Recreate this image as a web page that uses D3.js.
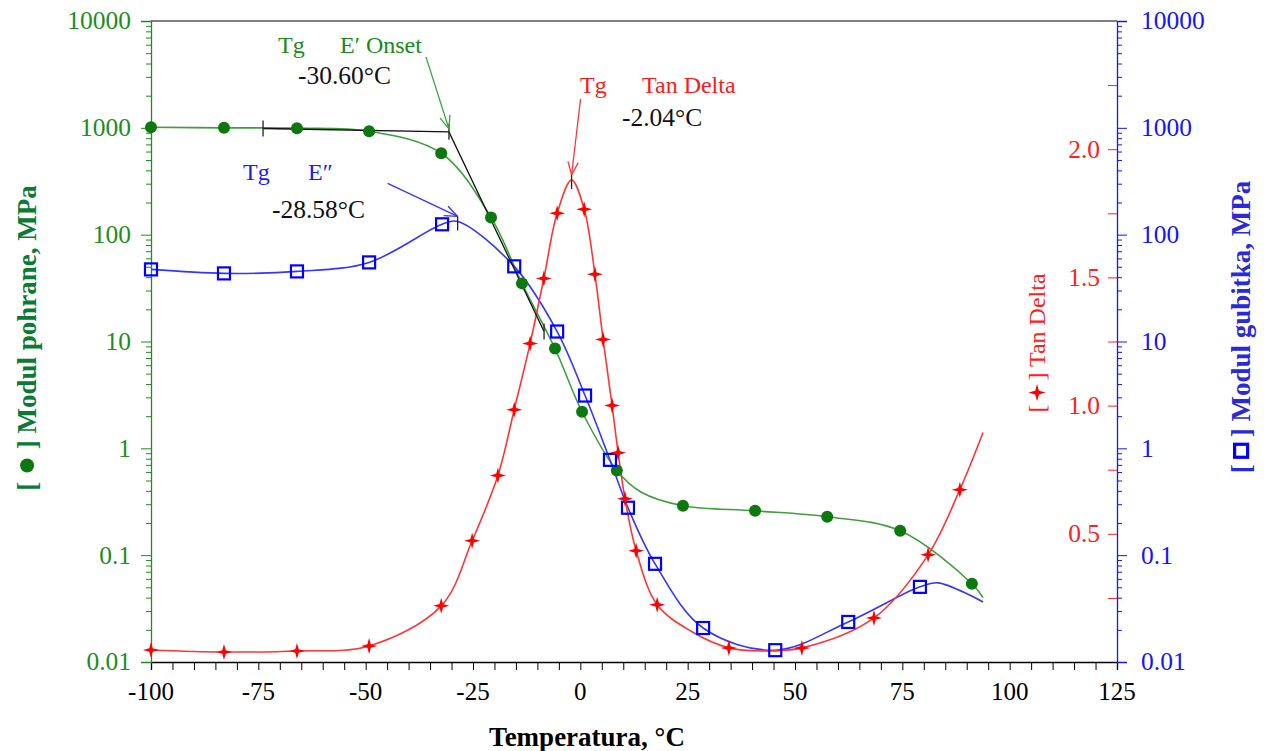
<!DOCTYPE html>
<html><head><meta charset="utf-8">
<script src="https://cdn.jsdelivr.net/npm/d3@7"></script>
<style>body{margin:0;background:#fff}svg{display:block}</style>
</head><body><svg id="c" width="1269" height="751"></svg>
<script>
// ---------- DATA ----------
const tempTicks = [-100, -75, -50, -25, 0, 25, 50, 75, 100, 125];
const modTicks = [0.01, 0.1, 1, 10, 100, 1000, 10000];
const modTickLabels = ["0.01", "0.1", "1", "10", "100", "1000", "10000"];
const tanTicks = [0.5, 1.0, 1.5, 2.0];
const tanTickLabels = ["0.5", "1.0", "1.5", "2.0"];

// Storage modulus E' (green circles), MPa
const storageT = [-100, -83.0, -66.0, -49.2, -32.4, -20.8, -13.6, -5.9, 0.4, 8.5, 23.9, 40.7, 57.5, 74.5, 91.2];
const storageE = [1014, 1000, 993, 930, 578, 145, 35, 8.6, 2.2, 0.62, 0.29, 0.26, 0.229, 0.169, 0.054];
// extra points
const storageCurveT = [14.1, 93.8];
const storageCurveE = [0.39, 0.040];

// Loss modulus E'' (blue squares), MPa
const lossT = [-100, -83.0, -66.0, -49.2, -32.2, -15.4, -5.4, 1.1, 6.9, 11.1, 17.4, 28.6, 45.4, 62.4, 79.1];
const lossE = [47.3, 43.4, 45.3, 55.0, 125, 50.5, 12.4, 3.12, 0.78, 0.278, 0.083, 0.0208, 0.0129, 0.0237, 0.0505];
const lossCurveT = [-28.58, 83.3, 93.8];
const lossCurveE = [133, 0.055, 0.0365];

// Tan delta (red stars)
const tanT = [-100, -83.0, -66.0, -49.2, -32.4, -25.2, -19.2, -15.4, -11.7, -8.5, -5.4, 0.9, 3.4, 5.3, 7.4, 8.8, 10.4, 13.0, 17.9, 34.6, 51.6, 68.4, 81.0, 88.4];
const tanD = [0.047, 0.039, 0.043, 0.0625, 0.219, 0.473, 0.727, 0.984, 1.242, 1.496, 1.75, 1.766, 1.512, 1.258, 1.0, 0.816, 0.637, 0.434, 0.223, 0.055, 0.055, 0.172, 0.418, 0.672];
const tanCurveT = [-2.04, 25.8, 42.1, 93.8];
const tanCurveD = [1.88, 0.12, 0.043, 0.895];

// Onset tangent construction (E')
const onsetT = [-73.9, -30.6, -8.45];
const onsetE = [986, 917, 12.4];

// Tg annotations
const tgNames = ["E\u2032 Onset", "E\u2033", "Tan Delta"];
const tgTemps = [-30.60, -28.58, -2.04];
const tgValueLabels = ["-30.60°C", "-28.58°C", "-2.04°C"];

// ---------- LAYOUT ----------
const svg = d3.select("#c");
const L = 151, R = 1117, T = 21, B = 662;
const x = d3.scaleLinear().domain([-100, 125]).range([L, R]);
const yMod = d3.scaleLog().domain([0.01, 10000]).range([B, T]);
const yTan = d3.scaleLinear().domain([0, 2.5]).range([B, T]);

const GREEN = "#1e8c1e", GREEN_T = "#0b7a36", GREEN_L = "#3f9f3f", GREEN_M = "#0d780d";
const BLUE = "#1414ff", BLUE_T = "#2a2ad8", BLUE_L = "#3535ff";
const RED = "#ff2020", RED_L = "#ff3535";
const SERIF = "'Liberation Serif','Times New Roman',serif";

const star4 = {draw(ctx, size) {
  const r = Math.sqrt(size) / 2, w = r * 0.22;
  ctx.moveTo(0, -r); ctx.lineTo(w, -w); ctx.lineTo(r, 0); ctx.lineTo(w, w);
  ctx.lineTo(0, r); ctx.lineTo(-w, w); ctx.lineTo(-r, 0); ctx.lineTo(-w, -w); ctx.closePath();
}};

// frame: top border
svg.append("line").attr("x1", L).attr("x2", R).attr("y1", T).attr("y2", T).attr("stroke", "#000").attr("stroke-width", 1.2);

// bottom axis
const xAxis = d3.axisBottom(x).tickValues(d3.range(-100, 126, 5)).tickSize(8).tickFormat("");
const gx = svg.append("g").attr("transform", `translate(0,${B})`).call(xAxis);
gx.select(".domain").attr("stroke", "#000").attr("stroke-width", 1.3);
gx.selectAll(".tick line").attr("stroke", "#000");
svg.append("g").selectAll("text").data(tempTicks).join("text")
  .attr("x", d => x(d)).attr("y", 700).attr("text-anchor", "middle")
  .attr("font-family", SERIF).attr("font-size", 25).attr("fill", "#000").text(d => d);

// left axis (green, log)
const yAxisL = d3.axisLeft(yMod).tickSize(10).tickFormat("");
const gl = svg.append("g").attr("transform", `translate(${L},0)`).call(yAxisL);
gl.select(".domain").attr("stroke", GREEN).attr("stroke-width", 1.3);
gl.selectAll(".tick line").attr("stroke", GREEN)
  .attr("x2", d => modTicks.includes(d) ? -10 : -5);
svg.append("g").selectAll("text").data(modTicks).join("text")
  .attr("x", 131).attr("y", d => yMod(d)).attr("dy", "0.33em").attr("text-anchor", "end")
  .attr("font-family", SERIF).attr("font-size", 25.5).attr("fill", GREEN).text((d, i) => modTickLabels[i]);

// right axis (blue, log)
const yAxisR = d3.axisRight(yMod).tickSize(10).tickFormat("");
const gr = svg.append("g").attr("transform", `translate(${R},0)`).call(yAxisR);
gr.select(".domain").attr("stroke", BLUE).attr("stroke-width", 1.3);
gr.selectAll(".tick line").attr("stroke", BLUE)
  .attr("x2", d => modTicks.includes(d) ? 10 : 5);
svg.append("g").selectAll("text").data(modTicks).join("text")
  .attr("x", 1141).attr("y", d => yMod(d)).attr("dy", "0.33em").attr("text-anchor", "start")
  .attr("font-family", SERIF).attr("font-size", 25.5).attr("fill", BLUE).text((d, i) => modTickLabels[i]);

// tan delta ticks (red, linear, inside the right axis)
const yAxisT = d3.axisLeft(yTan).tickValues(d3.range(0.25, 2.5, 0.25)).tickSize(9).tickFormat("");
const gt = svg.append("g").attr("transform", `translate(${R},0)`).call(yAxisT);
gt.select(".domain").remove();
gt.selectAll(".tick line").attr("stroke", RED);
svg.append("g").selectAll("text").data(tanTicks).join("text")
  .attr("x", 1100).attr("y", d => yTan(d)).attr("dy", "0.33em").attr("text-anchor", "end")
  .attr("font-family", SERIF).attr("font-size", 25.5).attr("fill", RED).text((d, i) => tanTickLabels[i]);

// ---------- AXIS TITLES ----------
svg.append("text").attr("x", 587).attr("y", 746).attr("text-anchor", "middle")
  .attr("font-family", SERIF).attr("font-size", 27).attr("font-weight", "bold").attr("fill", "#000")
  .text("Temperatura, °C");

// vertical title: "[" + placeholder + "] rest"; symbol drawn at the placeholder
function vTitle(cx, cy, color, rest, size, weight, gap, drawSym) {
  const g = svg.append("g").attr("transform", `translate(${cx},${cy}) rotate(-90)`);
  const t = g.append("text").attr("text-anchor", "middle").attr("font-family", SERIF)
    .attr("font-size", size).attr("font-weight", weight).attr("fill", color)
    .text("[" + gap + "]" + rest);
  const n = t.node();
  const a = n.getEndPositionOfChar(0).x, b = n.getStartPositionOfChar(gap.length + 1).x;
  drawSym(g, (a + b) / 2, -size * 0.33);
}
vTitle(36, 338, GREEN_T, " Modul pohrane, MPa", 27, "bold", "\u2003\u2009",
  (g, cx, cy) => g.append("circle").attr("cx", cx).attr("cy", cy).attr("r", 7).attr("fill", GREEN_M));
vTitle(1250, 327, BLUE_T, " Modul gubitka, MPa", 27, "bold", "\u2003",
  (g, cx, cy) => g.append("rect").attr("x", cx - 6.5).attr("y", cy - 6.5).attr("width", 13).attr("height", 13)
    .attr("fill", "none").attr("stroke", "#0000ff").attr("stroke-width", 3.2));
vTitle(1045, 343, RED, " Tan Delta", 24, "normal", "\u2003",
  (g, cx, cy) => g.append("path").attr("transform", `translate(${cx},${cy})`)
    .attr("d", d3.symbol().type(star4).size(300)).attr("fill", "#ff0000"));

// ---------- CURVES ----------
function merge(t1, v1, t2, v2) {
  return t1.map((t, i) => [t, v1[i]]).concat(t2.map((t, i) => [t, v2[i]])).sort((a, b) => a[0] - b[0]);
}
const lineMod = d3.line().x(d => x(d[0])).y(d => yMod(d[1])).curve(d3.curveCatmullRom.alpha(0.5));
const lineTan = d3.line().x(d => x(d[0])).y(d => yTan(d[1])).curve(d3.curveCatmullRom.alpha(0.5));

svg.append("path").attr("d", lineMod(merge(storageT, storageE, storageCurveT, storageCurveE)))
  .attr("fill", "none").attr("stroke", GREEN_L).attr("stroke-width", 1.6);
svg.append("path").attr("d", lineMod(merge(lossT, lossE, lossCurveT, lossCurveE)))
  .attr("fill", "none").attr("stroke", BLUE_L).attr("stroke-width", 1.6);
svg.append("path").attr("d", lineTan(merge(tanT, tanD, tanCurveT, tanCurveD)))
  .attr("fill", "none").attr("stroke", RED_L).attr("stroke-width", 1.6);

// onset tangent construction
svg.append("path").attr("d", d3.line().x(d => x(d[0])).y(d => yMod(d[1]))(onsetT.map((t, i) => [t, onsetE[i]])))
  .attr("fill", "none").attr("stroke", "#111").attr("stroke-width", 1.3);
svg.append("g").selectAll("line").data(onsetT.map((t, i) => [t, onsetE[i]])).join("line")
  .attr("x1", d => x(d[0])).attr("x2", d => x(d[0]))
  .attr("y1", d => yMod(d[1]) - 8).attr("y2", d => yMod(d[1]) + 8)
  .attr("stroke", "#222").attr("stroke-width", 1.3);

// ---------- MARKERS ----------
svg.append("g").selectAll("circle").data(storageT.map((t, i) => [t, storageE[i]])).join("circle")
  .attr("cx", d => x(d[0])).attr("cy", d => yMod(d[1])).attr("r", 6).attr("fill", GREEN_M);
svg.append("g").selectAll("rect").data(lossT.map((t, i) => [t, lossE[i]])).join("rect")
  .attr("x", d => x(d[0]) - 6).attr("y", d => yMod(d[1]) - 6).attr("width", 12).attr("height", 12)
  .attr("fill", "none").attr("stroke", "#0000ff").attr("stroke-width", 2.2);
svg.append("g").selectAll("path").data(tanT.map((t, i) => [t, tanD[i]])).join("path")
  .attr("transform", d => `translate(${x(d[0])},${yTan(d[1])})`)
  .attr("d", d3.symbol().type(star4).size(256)).attr("fill", "#ff0000");

// ---------- Tg ANNOTATIONS ----------
const tgTips = [
  [x(tgTemps[0]), yMod(onsetE[1]) - 3],
  [x(tgTemps[1]), yMod(lossCurveE[0]) - 5],
  [x(tgTemps[2]), yTan(tanCurveD[0]) - 5]
];
const tgTails = [[-23, -72], [-70, -33], [9, -76]];
const tgColors = [GREEN_L, BLUE_L, RED_L];
const tgTextColors = ["#1a8a1a", "#1a1aff", "#ff1a1a"];
const tgTextPos = [[278, 53, 340, 298, 84], [243, 180, 308, 272, 218], [580, 93, 642, 622, 126]];

tgTips.forEach((tip, i) => {
  const [tx, ty] = tip;
  const sx = tx + tgTails[i][0], sy = ty + tgTails[i][1];
  svg.append("line").attr("x1", sx).attr("y1", sy).attr("x2", tx).attr("y2", ty)
    .attr("stroke", tgColors[i]).attr("stroke-width", 1.3);
  const ang = Math.atan2(ty - sy, tx - sx);
  [-0.38, 0.38].forEach(a => {
    svg.append("line").attr("x1", tx).attr("y1", ty)
      .attr("x2", tx - 14 * Math.cos(ang + a)).attr("y2", ty - 14 * Math.sin(ang + a))
      .attr("stroke", tgColors[i]).attr("stroke-width", 1.3);
  });
  if (i > 0) {
    svg.append("line").attr("x1", tx).attr("x2", tx).attr("y1", ty).attr("y2", ty + 14)
      .attr("stroke", "#222").attr("stroke-width", 1.3);
  }
  const p = tgTextPos[i];
  svg.append("text").attr("x", p[0]).attr("y", p[1]).attr("font-family", SERIF).attr("font-size", 24)
    .attr("fill", tgTextColors[i]).text("Tg");
  svg.append("text").attr("x", p[2]).attr("y", p[1]).attr("font-family", SERIF).attr("font-size", 24)
    .attr("fill", tgTextColors[i]).text(tgNames[i]);
  svg.append("text").attr("x", p[3]).attr("y", p[4]).attr("font-family", SERIF).attr("font-size", 25.5)
    .attr("fill", "#111").text(tgValueLabels[i]);
});
</script></body></html>
